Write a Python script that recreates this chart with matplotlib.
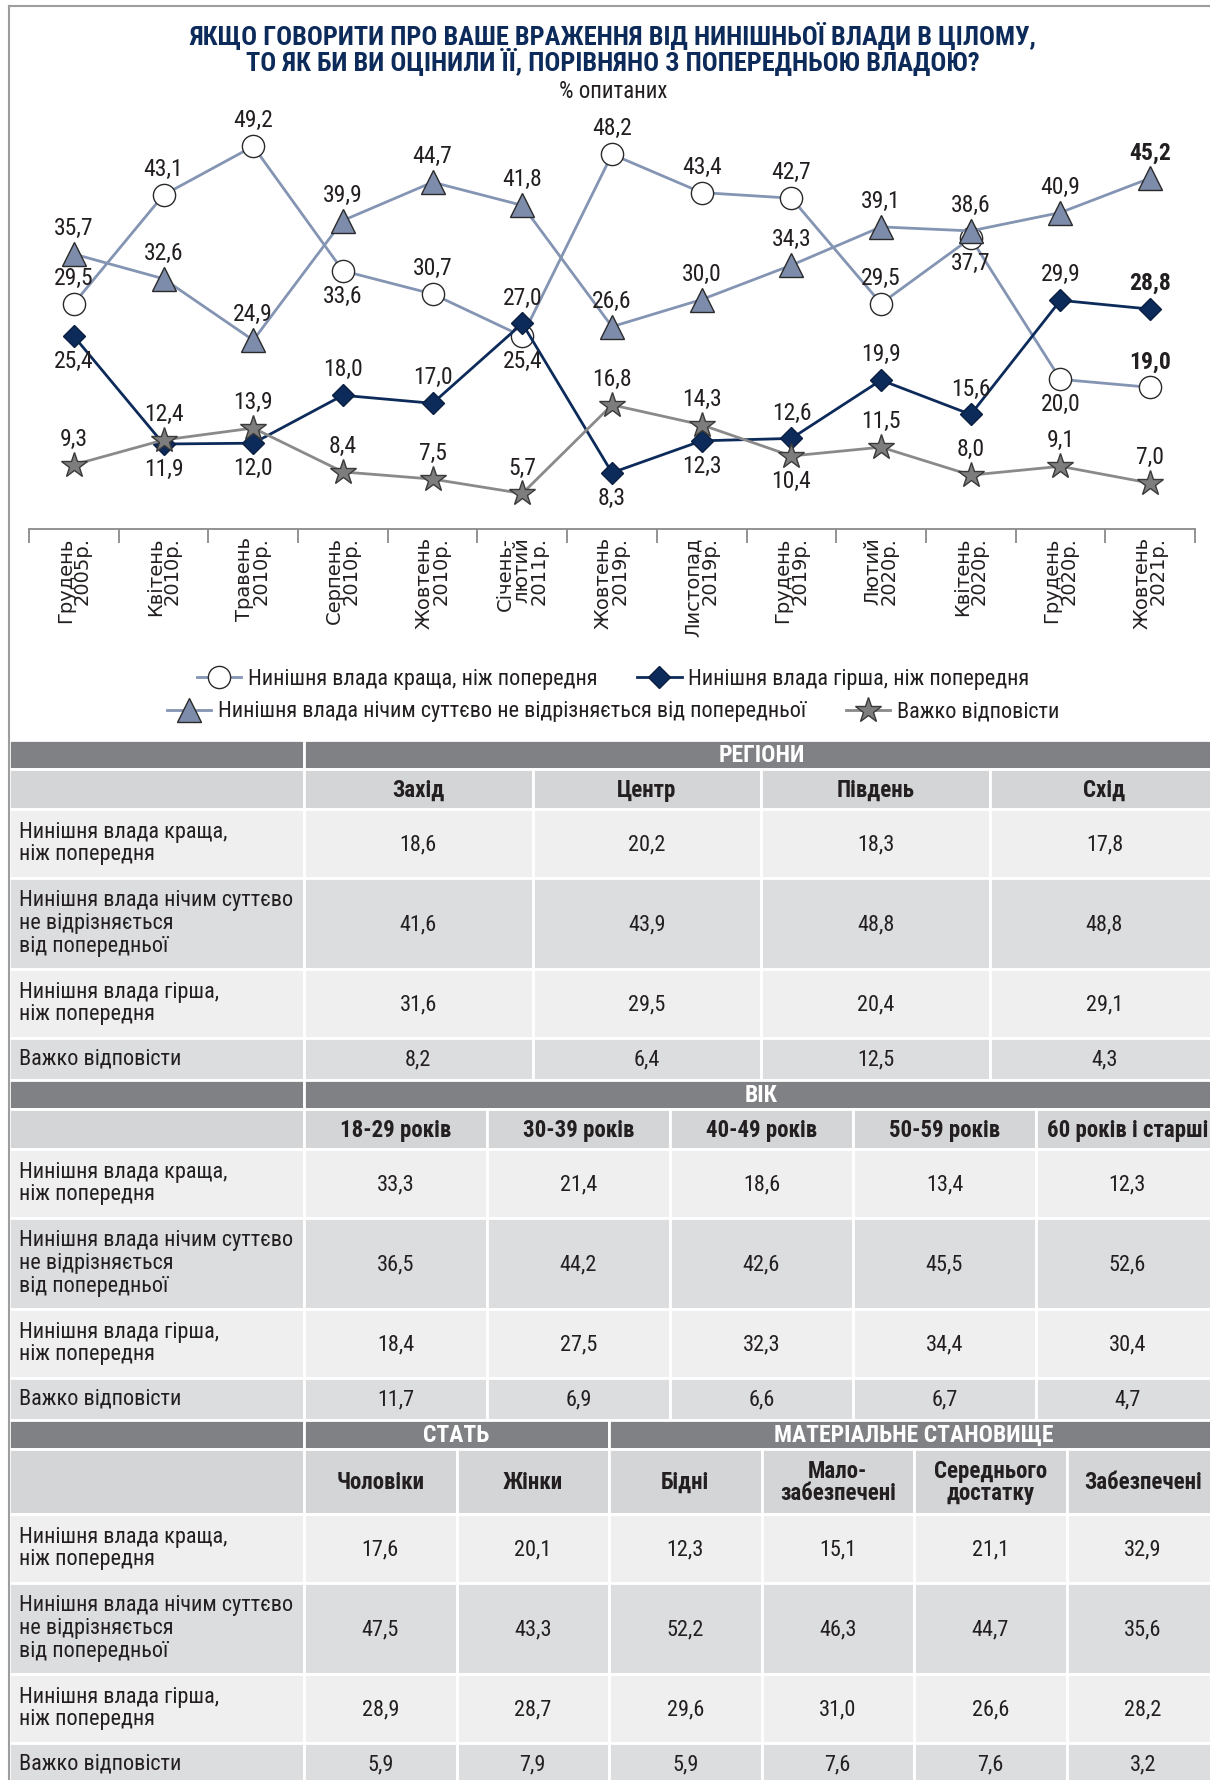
import matplotlib
matplotlib.use("Agg")
import matplotlib.pyplot as plt
import numpy as np
from matplotlib import font_manager
from matplotlib.patches import Rectangle

# ---------- дані ----------
months = ["Грудень\n2005р.", "Квітень\n2010р.", "Травень\n2010р.", "Серпень\n2010р.",
          "Жовтень\n2010р.", "Січень-\nлютий\n2011р.", "Жовтень\n2019р.", "Листопад\n2019р.",
          "Грудень\n2019р.", "Лютий\n2020р.", "Квітень\n2020р.", "Грудень\n2020р.",
          "Жовтень\n2021р."]
better = [29.5, 43.1, 49.2, 33.6, 30.7, 25.4, 48.2, 43.4, 42.7, 29.5, 37.7, 20.0, 19.0]
worse = [25.4, 11.9, 12.0, 18.0, 17.0, 27.0, 8.3, 12.3, 12.6, 19.9, 15.6, 29.9, 28.8]
same = [35.7, 32.6, 24.9, 39.9, 44.7, 41.8, 26.6, 30.0, 34.3, 39.1, 38.6, 40.9, 45.2]
hard = [9.3, 12.4, 13.9, 8.4, 7.5, 5.7, 16.8, 14.3, 10.4, 11.5, 8.0, 9.1, 7.0]
# де стоїть підпис: 1 = над маркером, -1 = під маркером
better_pos = [1, 1, 1, -1, 1, -1, 1, 1, 1, 1, -1, -1, 1]
worse_pos = [-1, -1, -1, 1, 1, 1, -1, -1, 1, 1, 1, 1, 1]
same_pos = [1] * 13
hard_pos = [1, 1, 1, 1, 1, 1, 1, 1, -1, 1, 1, 1, 1]

series_names = ["Нинішня влада краща, ніж попередня",
                "Нинішня влада гірша, ніж попередня",
                "Нинішня влада нічим суттєво не відрізняється від попередньої",
                "Важко відповісти"]

row_labels = ["Нинішня влада краща,\nніж попередня",
              "Нинішня влада нічим суттєво\nне відрізняється\nвід попередньої",
              "Нинішня влада гірша,\nніж попередня",
              "Важко відповісти"]

regions = ["Захід", "Центр", "Південь", "Схід"]
regions_vals = [[18.6, 20.2, 18.3, 17.8],
                [41.6, 43.9, 48.8, 48.8],
                [31.6, 29.5, 20.4, 29.1],
                [8.2, 6.4, 12.5, 4.3]]

ages = ["18-29 років", "30-39 років", "40-49 років", "50-59 років", "60 років і старші"]
ages_vals = [[33.3, 21.4, 18.6, 13.4, 12.3],
             [36.5, 44.2, 42.6, 45.5, 52.6],
             [18.4, 27.5, 32.3, 34.4, 30.4],
             [11.7, 6.9, 6.6, 6.7, 4.7]]

sex_wealth = ["Чоловіки", "Жінки", "Бідні", "Мало-\nзабезпечені", "Середнього\nдостатку", "Забезпечені"]
sex_wealth_vals = [[17.6, 20.1, 12.3, 15.1, 21.1, 32.9],
                   [47.5, 43.3, 52.2, 46.3, 44.7, 35.6],
                   [28.9, 28.7, 29.6, 31.0, 26.6, 28.2],
                   [5.9, 7.9, 5.9, 7.6, 7.6, 3.2]]

# ---------- шрифти ----------
names = {f.name for f in font_manager.fontManager.ttflist}


def pick(*cands):
    for c in cands:
        if c in names:
            return c
    return "DejaVu Sans"


NARROW = pick("Liberation Sans Narrow", "Roboto Condensed", "Open Sans Condensed", "Roboto")

NAVY = "#0d2b5a"
BLUEGRAY = "#8494b3"
TXT = "#231f20"
BAND = "#808184"
SUB = "#d4d5d7"
ROW_A = "#efefef"
ROW_B = "#dcdddf"

W, H = 1210, 1780
fig = plt.figure(figsize=(W / 100, H / 100), dpi=100)

bg = fig.add_axes([0, 0, 1, 1])
bg.set_xlim(0, W)
bg.set_ylim(H, 0)
bg.axis("off")
bg.plot([9, 9], [6, H], color="#9d9d9d", lw=1.5)
bg.plot([9, W], [6, 6], color="#9d9d9d", lw=1.5)

fig.text(613 / W, 1 - 50 / H,
         "ЯКЩО ГОВОРИТИ ПРО ВАШЕ ВРАЖЕННЯ ВІД НИНІШНЬОЇ ВЛАДИ В ЦІЛОМУ,\n"
         "ТО ЯК БИ ВИ ОЦІНИЛИ ЇЇ, ПОРІВНЯНО З ПОПЕРЕДНЬОЮ ВЛАДОЮ?",
         ha="center", va="center", color=NAVY, family=NARROW, weight="bold",
         fontsize=19, linespacing=0.95)
fig.text(613 / W, 1 - 91 / H, "% опитаних", ha="center", va="center",
         color=TXT, family=NARROW, fontsize=16.5)

# ---------- лінійний графік ----------
ax = fig.add_axes([29 / W, 1 - 529 / H, 1166 / W, 429 / H])
ax.patch.set_alpha(0)
x = np.arange(len(months))
ax.set_xlim(-0.5, len(months) - 0.5)
ax.set_ylim(1.25, 55)

l_better, = ax.plot(x, better, color=BLUEGRAY, lw=2, marker="o", ms=16,
                    mfc="white", mec="#2a2a2a", mew=1, zorder=3)
l_same, = ax.plot(x, same, color=BLUEGRAY, lw=2, marker="^", ms=17,
                  mfc="#7d8cab", mec="#2a2a2a", mew=1, zorder=4)
l_worse, = ax.plot(x, worse, color=NAVY, lw=2, marker="D", ms=11.5,
                   mfc=NAVY, mec="#0a1f40", mew=1, zorder=5)
l_hard, = ax.plot(x, hard, color="#8a8a8a", lw=2, marker="*", ms=19,
                  mfc="#7d7d7d", mec="#3a3a3a", mew=1, zorder=6)

for vals, pos in [(better, better_pos), (worse, worse_pos), (same, same_pos), (hard, hard_pos)]:
    for i, (v, p) in enumerate(zip(vals, pos)):
        last = i == len(vals) - 1 and vals is not hard
        ax.annotate(f"{v:.1f}".replace(".", ","), (i, v), xytext=(0, 10 * p),
                    textcoords="offset points", ha="center",
                    va="bottom" if p > 0 else "top", fontsize=17, family=NARROW,
                    color=TXT, weight="bold" if last else "normal", zorder=7)

for s in ["top", "right", "left"]:
    ax.spines[s].set_visible(False)
ax.spines["bottom"].set_color("#8a8a8a")
ax.spines["bottom"].set_linewidth(1.3)
ax.set_yticks([])
ax.set_xticks(x)
ax.set_xticklabels(months, rotation=90, ha="center", va="top", multialignment="right",
                   fontsize=14, family="DejaVu Sans", color=TXT, linespacing=0.85)
ax.tick_params(axis="x", which="major", length=0, pad=6)
ax.set_xticks(np.arange(-0.5, len(months)), minor=True)
ax.tick_params(axis="x", which="minor", length=10, color="#8a8a8a", width=1.3)

leg_kw = dict(loc="center", bbox_transform=fig.transFigure, ncol=2, frameon=False,
              prop={"family": NARROW, "size": 16}, handlelength=2.0,
              columnspacing=1.8, handletextpad=0.3, labelcolor=TXT)
leg1 = ax.legend(handles=[l_better, l_worse], labels=series_names[:2],
                 bbox_to_anchor=(613 / W, 1 - 679 / H), **leg_kw)
ax.add_artist(leg1)
ax.legend(handles=[l_same, l_hard], labels=series_names[2:],
          bbox_to_anchor=(613 / W, 1 - 712 / H), **leg_kw)

# ---------- таблиці ----------
LEFT, X0 = 9, 304
BAND_H = 29
ROW_H = [69, 91, 69, 42]


def cell(x, y, w, h, fc):
    bg.add_patch(Rectangle((x, y), w, h, fc=fc, ec="white", lw=2))


def table_block(top, sub_h, groups, heads, vals, col_w):
    cell(LEFT, top, X0 - LEFT, BAND_H, BAND)
    for title, c0, n in groups:
        gx = X0 + c0 * col_w
        cell(gx, top, n * col_w, BAND_H, BAND)
        bg.text(gx + n * col_w / 2, top + BAND_H / 2 + 1, title, ha="center", va="center",
                color="white", weight="bold", family=NARROW, fontsize=17)
    y = top + BAND_H
    cell(LEFT, y, X0 - LEFT, sub_h, SUB)
    for j, hd in enumerate(heads):
        cell(X0 + j * col_w, y, col_w, sub_h, SUB)
        bg.text(X0 + (j + 0.5) * col_w, y + sub_h / 2 + 1, hd, ha="center", va="center",
                color=TXT, weight="bold", family=NARROW, fontsize=16.5, linespacing=0.95)
    y += sub_h
    for i, (lab, row) in enumerate(zip(row_labels, vals)):
        fc = ROW_A if i % 2 == 0 else ROW_B
        h = ROW_H[i]
        cell(LEFT, y, X0 - LEFT, h, fc)
        bg.text(19, y + h / 2, lab, ha="left", va="center", color=TXT,
                family=NARROW, fontsize=16, linespacing=1.12)
        for j, v in enumerate(row):
            cell(X0 + j * col_w, y, col_w, h, fc)
            bg.text(X0 + (j + 0.5) * col_w, y + h / 2 + 1, f"{v:.1f}".replace(".", ","),
                    ha="center", va="center", color=TXT, family=NARROW, fontsize=16)
        y += h
    return y


y = table_block(740, 40, [("РЕГІОНИ", 0, 4)], regions, regions_vals, 228.7)
y = table_block(y, 40, [("ВІК", 0, 5)], ages, ages_vals, 183)
table_block(y, 65, [("СТАТЬ", 0, 2), ("МАТЕРІАЛЬНЕ СТАНОВИЩЕ", 2, 4)],
            sex_wealth, sex_wealth_vals, 152.5)

fig.savefig("out.png", dpi=100)
